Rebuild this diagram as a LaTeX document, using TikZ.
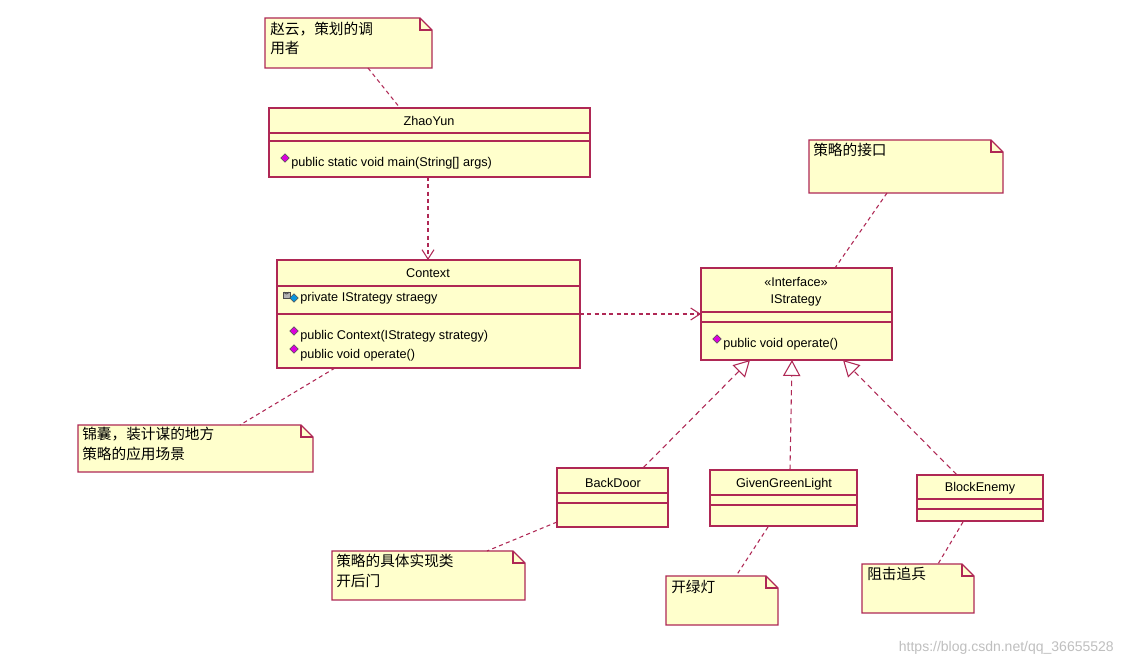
\documentclass[tikz,border=0pt]{standalone}
\usepackage{fontspec}
\setmainfont{Liberation Sans}
\newfontfamily\cjk{Noto Sans CJK SC}
\usetikzlibrary{arrows.meta}
\definecolor{umlfill}{RGB}{255,255,204}
\definecolor{umlline}{RGB}{175,40,85}
\definecolor{opcol}{RGB}{220,0,220}
\tikzset{
  cls/.style={draw=umlline,fill=umlfill,line width=0.9pt},
  sep/.style={draw=umlline,line width=0.9pt},
  txt/.style={inner sep=0pt,font=\fontsize{9.5}{11}\selectfont},
  ctxt/.style={inner sep=0pt,anchor=north west,align=left,font=\cjk\fontsize{11}{14.5}\selectfont},
  dep/.style={draw=umlline,line width=0.8pt,dash pattern=on 3pt off 2.5pt},
  depa/.style={dep,-{Straight Barb[length=7pt,width=9pt]}},
  real/.style={draw=umlline,line width=0.8pt,dash pattern=on 4pt off 3pt,-{Triangle[open,length=12pt,width=13pt,fill=white]}},
  opd/.style={fill=opcol,draw=black!70,line width=0.3pt,minimum size=4.5pt,inner sep=0pt,rotate=45}
}
\newcommand{\umlnote}[5]{% name, x1,y1,x2,y2
  \draw[cls] (#2,#3) -- (#4-12,#3) -- (#4,#3+12) -- (#4,#5) -- (#2,#5) -- cycle;
  \draw[umlline,line width=0.8pt] (#4-12,#3) -- (#4-12,#3+12) -- (#4,#3+12);
  \coordinate (#1) at ({(#2+#4)/2},{(#3+#5)/2});
}
\begin{document}
\begin{tikzpicture}[x=0.75pt,y=-0.75pt]
\useasboundingbox (0,0) rectangle (1122,666);
\fill[white] (0,0) rectangle (1122,666);
% notes
\umlnote{n1}{265}{18}{432}{68}
\node[ctxt] (t1) at (270,22) {赵云，策划的调\\用者};
\umlnote{n2}{809}{140}{1003}{193}
\node[ctxt] (t2) at (813,143) {策略的接口};
\umlnote{n3}{78}{425}{313}{472}
\node[ctxt] (t3) at (82,427) {锦囊，装计谋的地方\\策略的应用场景};
\umlnote{n4}{332}{551}{525}{600}
\node[ctxt] (t4) at (336,554) {策略的具体实现类\\开后门};
\umlnote{n5}{666}{576}{778}{625}
\node[ctxt] (t5) at (671,580) {开绿灯};
\umlnote{n6}{862}{564}{974}{613}
\node[ctxt] (t6) at (867,567) {阻击追兵};
% ZhaoYun
\draw[cls] (269,108) rectangle (590,177);
\draw[sep] (269,133) -- (590,133) (269,141) -- (590,141);
\node[txt] (zy) at (429,121) {ZhaoYun};
\node[opd] (d1) at (285,158) {};
\node[txt,anchor=west] (zm) at (291,163) {public static void main(String[] args)};
% Context
\draw[cls] (277,260) rectangle (580,368);
\draw[sep] (277,286) -- (580,286) (277,314) -- (580,314);
\node[txt] (cx) at (428,273) {Context};
\draw[fill=gray!60,draw=black!70,line width=0.3pt] (283,292) rectangle (290,298);
\draw[black!70,line width=0.6pt] (284.5,292) arc (180:0:2);
\node[opd,fill=cyan!80!blue] (d2) at (294,298) {};
\node[txt,anchor=west] (ca) at (300,298) {private IStrategy straegy};
\node[opd] (d3) at (294,331) {};
\node[txt,anchor=west] (cm1) at (300,336) {public Context(IStrategy strategy)};
\node[opd] (d4) at (294,349) {};
\node[txt,anchor=west] (cm2) at (300,355) {public void operate()};
% IStrategy
\draw[cls] (701,268) rectangle (892,360);
\draw[sep] (701,312) -- (892,312) (701,322) -- (892,322);
\node[txt] (is1) at (796,282) {<<Interface>>};
\node[txt] (is2) at (796,300) {IStrategy};
\node[opd] (d5) at (717,339) {};
\node[txt,anchor=west] (im) at (723,344) {public void operate()};
% BackDoor
\draw[cls] (557,468) rectangle (668,527);
\draw[sep] (557,493) -- (668,493) (557,503) -- (668,503);
\node[txt] (bd) at (613,483) {BackDoor};
% GivenGreenLight
\draw[cls] (710,470) rectangle (857,526);
\draw[sep] (710,495) -- (857,495) (710,505) -- (857,505);
\node[txt] (gg) at (784,484) {GivenGreenLight};
% BlockEnemy
\draw[cls] (917,475) rectangle (1043,521);
\draw[sep] (917,499) -- (1043,499) (917,509) -- (1043,509);
\node[txt] (be) at (980,488) {BlockEnemy};
% anchor coordinates
\coordinate (n1b) at (368,68); \coordinate (zyt) at (400,108);
\coordinate (zyb) at (428,177); \coordinate (cxt) at (428,260);
\coordinate (cxr) at (580,314); \coordinate (isl) at (701,314);
\coordinate (n2b) at (887,193); \coordinate (ist) at (835,268);
\coordinate (bdt) at (643,468); \coordinate (isb1) at (750,360);
\coordinate (ggt) at (790,470); \coordinate (isb2) at (792,360);
\coordinate (bet) at (957,475); \coordinate (isb3) at (843,360);
\coordinate (cxb) at (335,368); \coordinate (n3t) at (240,425);
\coordinate (bdl) at (557,522); \coordinate (n4t) at (487,551);
\coordinate (ggb) at (768,527); \coordinate (n5t) at (736,576);
\coordinate (beb) at (963,522); \coordinate (n6t) at (938,564);
% connectors
\draw[dep] (n1b) -- (zyt);
\draw[depa] (zyb) -- (cxt);
\draw[depa] (cxr) -- (isl);
\draw[dep] (n2b) -- (ist);
\draw[real] (bdt) -- (isb1);
\draw[real] (ggt) -- (isb2);
\draw[real] (bet) -- (isb3);
\draw[dep] (cxb) -- (n3t);
\draw[dep] (bdl) -- (n4t);
\draw[dep] (ggb) -- (n5t);
\draw[dep] (beb) -- (n6t);
\node[txt,anchor=east,text=gray!50,font=\fontsize{10.5}{12}\selectfont] (wm) at (1114,648) {https://blog.csdn.net/qq\_36655528};
\end{tikzpicture}
\end{document}
